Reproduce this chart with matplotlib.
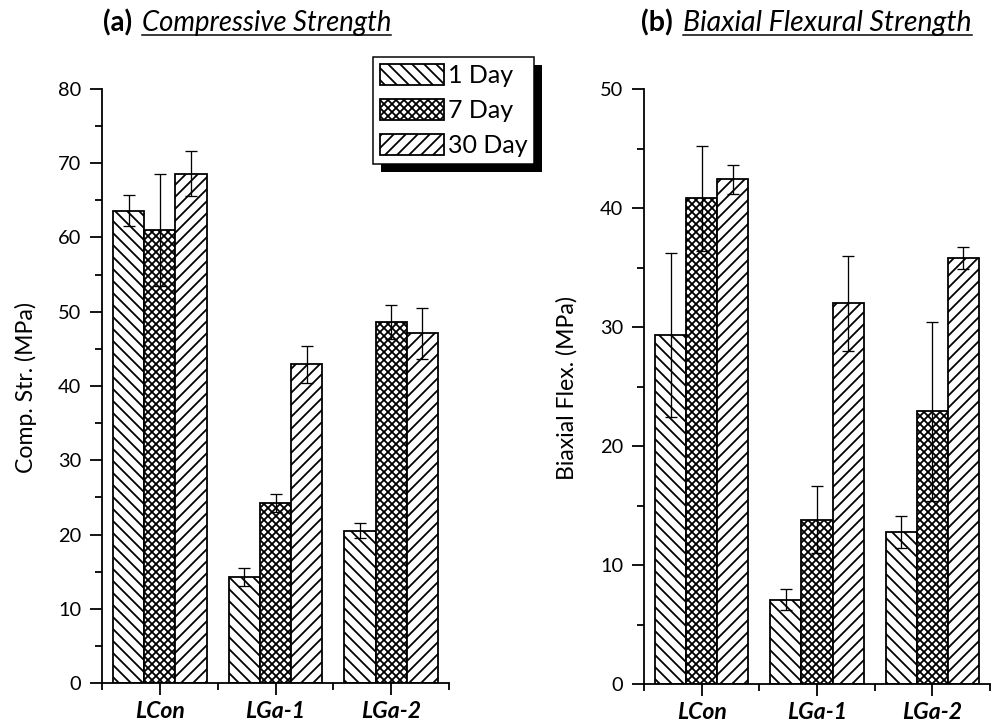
import numpy as np
import matplotlib
matplotlib.use("Agg")
import matplotlib.pyplot as plt
from matplotlib.patches import Rectangle
from matplotlib.lines import Line2D
from matplotlib.transforms import IdentityTransform

plt.rcParams['font.family'] = ['Lato', 'DejaVu Sans']
plt.rcParams['hatch.linewidth'] = 1.8

W, H = 993, 726

groups = ['LCon', 'LGa-1', 'LGa-2']
ages = ['1 Day', '7 Day', '30 Day']
hatches = ['\\\\', 'xxx', '//']
hatch_lw = [1.8, 1.8, 1.8]

# compressive strength (MPa), mean and std per age
comp_1d = [63.6, 14.3, 20.5]
comp_7d = [61.0, 24.2, 48.6]
comp_30d = [68.6, 42.9, 47.1]
comp_1d_err = [2.1, 1.2, 1.0]
comp_7d_err = [7.5, 1.2, 2.3]
comp_30d_err = [3.0, 2.5, 3.4]

# biaxial flexural strength (MPa)
flex_1d = [29.3, 7.1, 12.8]
flex_7d = [40.8, 13.8, 22.9]
flex_30d = [42.4, 32.0, 35.8]
flex_1d_err = [6.9, 0.9, 1.35]
flex_7d_err = [4.4, 2.8, 7.5]
flex_30d_err = [1.2, 4.0, 0.9]


def fx(x):
    return x / W


def fy(y):
    return 1 - y / H


def thin_hatch(patches, lw):
    for p in patches:
        if hasattr(p, 'set_hatch_linewidth'):
            p.set_hatch_linewidth(lw)


def panel(ax, means, errs, ymax):
    x = np.arange(1, len(groups) + 1)
    w = 0.27
    for i, (m, e) in enumerate(zip(means, errs)):
        xi = x + (i - 1) * w
        bars = ax.bar(xi, m, w, color='white', edgecolor='black', linewidth=1.8,
                      hatch=hatches[i], label=ages[i], zorder=2)
        thin_hatch(bars, hatch_lw[i])
        ax.errorbar(xi, m, yerr=e, fmt='none', ecolor='black', elinewidth=1.3,
                    capsize=6, capthick=1.3, zorder=3)
    ax.set_xlim(0.5, 3.5)
    ax.set_ylim(0, ymax)
    for s in ['top', 'right']:
        ax.spines[s].set_visible(False)
    for s in ['left', 'bottom']:
        ax.spines[s].set_linewidth(1.8)
    ax.set_xticks(x)
    ax.set_xticklabels(groups, fontweight='bold', fontstyle='italic', fontsize=23)
    ax.set_xticks([0.5, 1.5, 2.5, 3.5], minor=True)
    ax.set_yticks(np.arange(0, ymax + 1, 10))
    ax.set_yticks(np.arange(5, ymax, 10), minor=True)
    ax.tick_params(axis='x', which='major', length=12, width=1.8, pad=6)
    ax.tick_params(axis='x', which='minor', length=7, width=1.8)
    ax.tick_params(axis='y', which='major', length=12, width=1.8, pad=9, labelsize=20)
    ax.tick_params(axis='y', which='minor', length=7, width=1.8)


fig = plt.figure(figsize=(W / 72, H / 72), dpi=72)
ax_a = fig.add_axes([fx(102), fy(683), (449 - 102) / W, (683 - 89) / H])
ax_b = fig.add_axes([fx(644), fy(684), (990 - 644) / W, (684 - 89) / H])

panel(ax_a, [comp_1d, comp_7d, comp_30d], [comp_1d_err, comp_7d_err, comp_30d_err], 80)
panel(ax_b, [flex_1d, flex_7d, flex_30d], [flex_1d_err, flex_7d_err, flex_30d_err], 50)

fig.text(fx(26), fy(388), 'Comp. Str. (MPa)', rotation=90, ha='center', va='center', fontsize=23)
fig.text(fx(567), fy(388), 'Biaxial Flex. (MPa)', rotation=90, ha='center', va='center', fontsize=23)

# panel titles: bold tag + underlined italic name
titles = []
for tag, name, x_tag, x_name, size in [('(a)', 'Compressive Strength', 132, 142, 27.5),
                                        ('(b)', 'Biaxial Flexural Strength', 673, 683, 28.5)]:
    fig.text(fx(x_tag), fy(31), tag, fontweight='bold', fontsize=size, va='baseline', ha='right')
    titles.append(fig.text(fx(x_name), fy(31), name, fontstyle='italic', fontsize=size, va='baseline'))

leg = ax_a.legend(loc='upper left', bbox_to_anchor=(fx(373), fy(57)), bbox_transform=fig.transFigure,
                  borderaxespad=0, fancybox=False, edgecolor='black', framealpha=1,
                  fontsize=25, handlelength=2.56, handleheight=0.92, handletextpad=0.16,
                  labelspacing=0.48, borderpad=0.27)
leg.get_frame().set_linewidth(1.5)
leg.set_zorder(5)
thin_hatch([leg.legend_handles[1]], hatch_lw[1])

fig.canvas.draw()
r = fig.canvas.get_renderer()

# underline under each italic title
for t in titles:
    bb = t.get_window_extent(r)
    y_line = fy(34.5)
    fig.add_artist(Line2D([bb.x0 / W, bb.x1 / W], [y_line, y_line], color='black', linewidth=1.5))

# solid black drop shadow behind the legend box
bb = leg.get_window_extent(r)
ax_a.add_patch(Rectangle((bb.x0 + 8, bb.y0 - 8), bb.width, bb.height, transform=IdentityTransform(),
                         facecolor='black', edgecolor='none', clip_on=False, zorder=4.9))

fig.savefig('out.png', dpi=72)
